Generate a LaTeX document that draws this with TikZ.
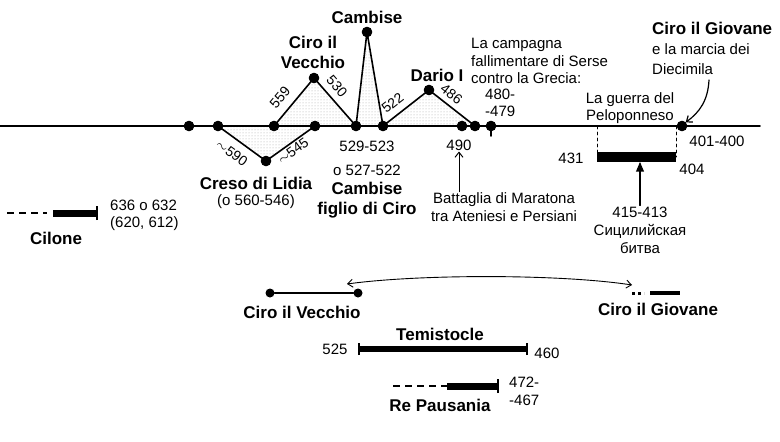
\documentclass[tikz,border=0pt]{standalone}
\usepackage{fontspec}
\setmainfont{Liberation Sans}
\usetikzlibrary{arrows,arrows.meta,patterns}

\begin{document}
\begin{tikzpicture}[x=1pt,y=-1pt,line cap=round,line join=round,>={Straight Barb[length=5pt,width=8pt]},
    evt/.style={circle,fill=black,inner sep=0pt,minimum size=10pt},
    txt/.style={font=\fontsize{15}{17.5}\selectfont,inner sep=1pt},
    ttl/.style={font=\fontsize{17}{20}\selectfont\bfseries,inner sep=1pt},
    yr/.style={font=\fontsize{14}{16}\selectfont,inner sep=0pt},
    bar/.style={line width=#1,line cap=butt},
    shade/.style={pattern=dots,pattern color=gray!70}]
    \useasboundingbox (0,0) rectangle (780,442);
    % time axis
    \coordinate (ax0) at (0,126);
    \coordinate (ax1) at (760,126);
    \node[evt] (a1) at (189,126) {};
    \node[evt] (a2) at (218,126) {};
    \node[evt] (a3) at (274,126) {};
    \node[evt] (a4) at (315,126) {};
    \node[evt] (a5) at (356,126) {};
    \node[evt] (a6) at (383,126) {};
    \node[evt] (a7) at (462,126) {};
    \node[evt] (a8) at (475,126) {};
    \node[evt] (a9) at (491,126) {};
    \node[evt] (a10) at (682,126) {};
    \node[evt] (pc) at (266,161) {};
    \node[evt] (pv) at (314,78) {};
    \node[evt] (pk) at (367,32) {};
    \node[evt] (pd) at (429,90) {};
    \fill[shade] (a2.center) -- (pc.center) -- (a4.center) -- cycle;
    \fill[shade] (a3.center) -- (pv.center) -- (a5.center) -- cycle;
    \fill[shade] (a5.center) -- (pk.center) -- (a6.center) -- cycle;
    \fill[shade] (a6.center) -- (pd.center) -- (a8.center) -- cycle;
    \draw[line width=1.5pt] (ax0) -- (ax1);
    \draw[line width=2pt] (a1) -- (a2);
    \draw[line width=1.6pt] (a2.center) -- (pc.center) -- (a4.center);
    \draw[line width=1.6pt] (a3.center) -- (pv.center) -- (a5.center);
    \draw[line width=1.6pt] (a5.center) -- (pk.center) -- (a6.center);
    \draw[line width=1.6pt] (a6.center) -- (pd.center) -- (a8.center);
    \draw[line width=1.6pt] (a9.center) -- ++(0,10);
    \foreach \n in {a1,a2,a3,a4,a5,a6,a7,a8,a9,a10,pc,pv,pk,pd}
    \fill (\n) circle (5.3pt);
    % years along the edges
    \node[yr,rotate=-36] (e590) at (232,153) {$\sim$590};
    \node[yr,rotate=36] (e545) at (293,151) {$\sim$545};
    \node[yr,rotate=50] (e559) at (280,97.5) {559};
    \node[yr,rotate=-49] (e530) at (337,86.5) {530};
    \node[yr,rotate=38] (e522) at (392.5,103) {522};
    \node[yr,rotate=-38] (e486) at (451.5,94) {486};
    % rulers
    \node[ttl] (cambise) at (367,17) {Cambise};
    \node[ttl,align=center] (ciro) at (313,52) {Ciro il\\Vecchio};
    \node[ttl] (dario) at (437,75) {Dario I};
    \node[ttl] (creso) at (256,183) {Creso di Lidia};
    \node[txt] (creso2) at (256,202) {(o 560-546)};
    \node[txt] (y529) at (367,146) {529-523};
    \node[txt] (y527) at (367,170) {o 527-522};
    \node[ttl,align=center] (cambise2) at (367,200) {Cambise\\figlio di Ciro};
    % battles
    \node[txt] (y490) at (459,145) {490};
    \node[txt,align=center] (marat) at (504,207) {Battaglia di Maratona\\tra Ateniesi e Persiani};
    \draw[->,line width=1pt] (marat.north -| y490.south) -- (y490.south);
    \node[txt,align=left,anchor=west] (serse) at (470,61) {La campagna\\fallimentare di Serse\\contro la Grecia:};
    \node[txt,align=left,anchor=west] (y480) at (484,103) {480-\\-479};
    \node[txt,align=center] (pelop) at (630,108) {La guerra del\\Peloponneso};
    \coordinate (pw0) at (597,157);
    \coordinate (pw1) at (676,157);
    \coordinate (pwm) at (640,162);
    \draw[dashed,thick] (pw0 |- ax0) -- (pw0);
    \draw[dashed,thick] (pw1 |- ax0) -- (pw1);
    \draw[bar=10pt] (pw0) -- (pw1);
    \node[txt] (y431) at (571,158) {431};
    \node[txt] (y404) at (692,169) {404};
    \node[txt] (y401) at (717,141) {401-400};
    \node[txt,align=center,font=\fontsize{15}{18}\selectfont] (sic) at (640,230) {415-413\\Сицилийская\\битва};
    \draw[-triangle 45,line width=1.2pt] (sic.north) -- (pwm);
    \node[ttl,anchor=west] (giov) at (651,28) {Ciro il Giovane};
    \node[txt,align=left,anchor=west,font=\fontsize{15}{20}\selectfont] (march) at (651,59) {e la marcia dei\\Diecimila};
    \coordinate (dc) at (709,80);
    \draw[->,line width=1.2pt] (dc) .. controls (708,100) and (700,112) .. (a10.north east);
    % Cilone
    \draw[line width=2pt,dash pattern=on 7pt off 5pt,line cap=butt] (7,213) -- (47,213);
    \coordinate (ci0) at (53,213);
    \coordinate (ci1) at (97,213);
    \draw[bar=7pt] (ci0) -- (ci1);
    \draw[line width=2pt,line cap=butt] ([yshift=-7pt]ci1) -- ([yshift=7pt]ci1);
    \node[txt,align=left,anchor=west] (y636) at (109,215.5) {636 o 632\\(620, 612)};
    \node[ttl] (cilone) at (56,238) {Cilone};
    % Ciro il Vecchio / Ciro il Giovane
    \node[evt,minimum size=9pt] (lv0) at (270,293) {};
    \node[evt,minimum size=9pt] (lv1) at (358,293) {};
    \draw[line width=2.2pt] (lv0) -- (lv1);
    \node[ttl] (vecchio) at (302,312) {Ciro il Vecchio};
    \draw[line width=3pt,dash pattern=on 3pt off 3pt,line cap=butt] (632,293) -- (644,293);
    \coordinate (gv0) at (650,293);
    \coordinate (gv1) at (680,293);
    \draw[bar=4pt] (gv0) -- (gv1);
    \node[ttl] (giovane) at (658,309) {Ciro il Giovane};
    \coordinate (cv0) at (347,284);
    \coordinate (cv1) at (632,285);
    \draw[<->,line width=0.9pt] (cv0) .. controls (420,274) and (560,274) .. (cv1);
    % Temistocle
    \coordinate (te0) at (359,349);
    \coordinate (te1) at (527,349);
    \draw[bar=6pt] (te0) -- (te1);
    \draw[line width=2pt,line cap=butt] ([yshift=-6pt]te0) -- ([yshift=6pt]te0);
    \draw[line width=2pt,line cap=butt] ([yshift=-6pt]te1) -- ([yshift=6pt]te1);
    \node[ttl] (temist) at (440,334) {Temistocle};
    \node[txt] (y525) at (335,349) {525};
    \node[txt] (y460) at (547,353) {460};
    % Re Pausania
    \draw[line width=2pt,dash pattern=on 7pt off 5pt,line cap=butt] (393,386) -- (447,386);
    \coordinate (rp0) at (447,386);
    \coordinate (rp1) at (498,386);
    \draw[bar=7pt] (rp0) -- (rp1);
    \draw[line width=2pt,line cap=butt] ([yshift=-7pt]rp1) -- ([yshift=7pt]rp1);
    \node[txt,align=left,anchor=west] (y472) at (508,391.5) {472-\\-467};
    \node[ttl] (paus) at (440,405) {Re Pausania};
\end{tikzpicture}
\end{document}
